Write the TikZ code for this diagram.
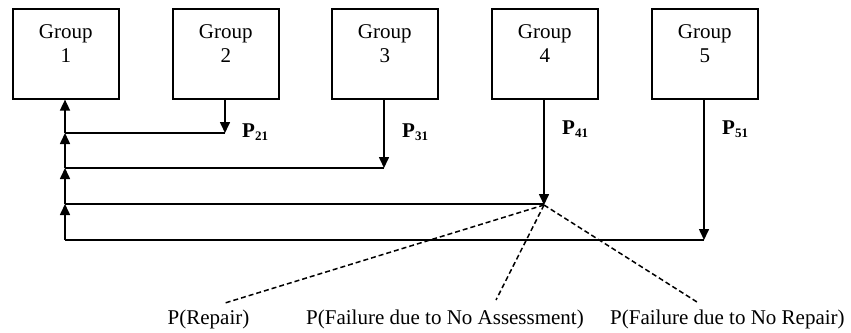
\documentclass[tikz,border=0pt]{standalone}
\usepackage{fontspec}
\setmainfont{Liberation Serif}
\usetikzlibrary{arrows.meta}
\newcommand{\psub}[2]{\textbf{#1}\raisebox{-3pt}{\fontsize{13}{13}\selectfont\textbf{#2}}}
\begin{document}
\begin{tikzpicture}[x=1pt,y=-1pt,
  grpbox/.style={draw, line width=1.6pt, minimum width=106pt, minimum height=90pt, inner sep=0pt, anchor=north west},
  txt/.style={font=\fontsize{21}{24}\selectfont, anchor=base, inner sep=0pt},
  plab/.style={font=\fontsize{21}{24}\selectfont, anchor=base west, inner sep=0pt},
  flow/.style={line width=1.6pt, -{Triangle[width=10pt,length=11pt]}},
  link/.style={line width=1.6pt},
  dashln/.style={line width=1.5pt, dash pattern=on 5pt off 3pt}]
\useasboundingbox (0,0) rectangle (851,332);
% boxes
\node[grpbox] (g1) at (12,8) {};
\node[grpbox] (g2) at (172,8) {};
\node[grpbox] (g3) at (331,8) {};
\node[grpbox] (g4) at (491,8) {};
\node[grpbox] (g5) at (651,8) {};
\foreach \i in {1,...,5}{
  \node[txt] (t\i) at ([yshift=-30pt]g\i.north) {Group};
  \node[txt] (n\i) at ([yshift=-54pt]g\i.north) {\i};
}
% junction coordinates
\coordinate (j2) at (225,133);
\coordinate (j3) at (384,168);
\coordinate (j4) at (544,205);
\coordinate (j5) at (704,240);
\coordinate (k1) at (65,133);
\coordinate (k2) at (65,168);
\coordinate (k3) at (65,204);
\coordinate (k4) at (65,240);
% down arrows
\draw[flow] (g2.south -| j2) -- (j2);
\draw[flow] (g3.south -| j3) -- (j3);
\draw[flow] (g4.south -| j4) -- (j4);
\draw[flow] (g5.south -| j5) -- (j5);
% horizontal returns
\draw[link] (j2) -- (k1);
\draw[link] (j3) -- (k2);
\draw[link] (j4 |- k3) -- (k3);
\draw[link] (j5) -- (k4);
% up arrows
\draw[flow] (k4) -- (k3);
\draw[flow] (k3) -- (k2);
\draw[flow] (k2) -- (k1);
\draw[flow] (k1) -- (g1.south -| k1);
% P labels
\node[plab] (p21) at (242,137) {\psub{P}{21}};
\node[plab] (p31) at (402,137) {\psub{P}{31}};
\node[plab] (p41) at (562,134) {\psub{P}{41}};
\node[plab] (p51) at (722,134) {\psub{P}{51}};
% bottom outcomes
\coordinate (d1) at (225,303);
\coordinate (d2) at (496,300);
\coordinate (d3) at (697,302);
\draw[dashln] (j4) -- (d1);
\draw[dashln] (j4) -- (d2);
\draw[dashln] (j4) -- (d3);
\node[txt] (o1) at (208.5,324) {P(Repair)};
\node[txt] (o2) at (445,324) {P(Failure due to No Assessment)};
\node[txt, anchor=base west] (o3) at (610,324) {P(Failure due to No Repair)};
\end{tikzpicture}
\end{document}
